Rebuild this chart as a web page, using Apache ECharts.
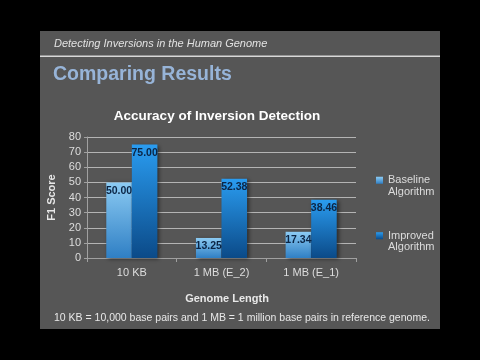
<!DOCTYPE html>
<html><head><meta charset="utf-8">
<script src="https://cdn.jsdelivr.net/npm/echarts@6/dist/echarts.min.js"></script>
<style>html,body{margin:0;padding:0;background:#000;}#c{width:480px;height:360px;}</style>
</head><body><div id="c"></div>
<script>
var categories = ['10 KB', '1 MB (E_2)', '1 MB (E_1)'];
var baseline = [50.00, 13.25, 17.34];
var improved = [75.00, 52.38, 38.46];
var seriesNames = ['Baseline Algorithm', 'Improved Algorithm'];
var yTicks = [0, 10, 20, 30, 40, 50, 60, 70, 80];

var FONT = 'Liberation Sans';
var chart = echarts.init(document.getElementById('c'));
function grad(top, bottom) {
  return new echarts.graphic.LinearGradient(0, 0, 0, 1, [
    {offset: 0, color: top}, {offset: 1, color: bottom}]);
}
var labelCfg = {
  show: true, position: 'insideTop', distance: 3,
  color: '#0b2545', fontSize: 10.5, fontWeight: 'bold', fontFamily: FONT,
  formatter: function (p) { return p.value.toFixed(2); }
};
chart.setOption({
  backgroundColor: '#000',
  animation: false,
  graphic: [
    {type: 'rect', shape: {x: 40, y: 31, width: 400, height: 298}, style: {fill: '#565656'}, z: -10},
    {type: 'rect', shape: {x: 40, y: 55.5, width: 400, height: 1.5}, style: {fill: '#d8d8d8'}, z: -9},
    {type: 'text', left: 54, top: 38, style: {text: 'Detecting Inversions in the Human Genome', fill: '#e2e2e2', font: 'italic 11px ' + FONT}},
    {type: 'text', left: 53, top: 65, style: {text: 'Comparing Results', fill: '#97b4d8', font: 'bold 19.5px ' + FONT}},
    {type: 'text', left: 54, top: 313, style: {text: '10 KB = 10,000 base pairs and 1 MB = 1 million base pairs in reference genome.', fill: '#e8e8e8', font: '10.5px ' + FONT}}
  ],
  title: {
    text: 'Accuracy of Inversion Detection', left: 212, top: 104, textAlign: 'center',
    textStyle: {color: '#ffffff', fontSize: 13.5, fontWeight: 'bold', fontFamily: FONT}
  },
  legend: {
    orient: 'vertical', left: 371, top: 158, itemGap: 21,
    itemWidth: 7, itemHeight: 7, icon: 'rect',
    textStyle: {color: '#dcdcdc', fontSize: 11, fontFamily: FONT, lineHeight: 11.5},
    formatter: function (n) { return '\n' + n.replace(' ', '\n'); },
    data: seriesNames
  },
  grid: {left: 87, right: 124, top: 137, bottom: 102},
  xAxis: {
    type: 'category', data: categories,
    axisLine: {lineStyle: {color: '#a0a0a0'}},
    axisTick: {show: true, length: 4, lineStyle: {color: '#a0a0a0'}},
    axisLabel: {color: '#dddddd', fontSize: 11, fontFamily: FONT, margin: 9},
    name: 'Genome Length', nameLocation: 'middle', nameGap: 35,
    nameTextStyle: {color: '#e8e8e8', fontSize: 11, fontWeight: 'bold', fontFamily: FONT, padding: [0, 0, 0, 11]}
  },
  yAxis: {
    type: 'value', min: 0, max: 80, interval: 10,
    axisLine: {show: true, lineStyle: {color: '#a0a0a0'}},
    axisTick: {show: true, length: 3, lineStyle: {color: '#a0a0a0'}},
    axisLabel: {color: '#dddddd', fontSize: 11, fontFamily: FONT, margin: 6,
      formatter: function (v) { return yTicks.indexOf(v) >= 0 ? String(v) : ''; }},
    splitLine: {lineStyle: {color: '#b4b4b4', width: 1}},
    name: 'F1 Score', nameLocation: 'middle', nameGap: 30, nameRotate: 90,
    nameTextStyle: {color: '#e8e8e8', fontSize: 11, fontWeight: 'bold', fontFamily: FONT}
  },
  series: [
    {
      name: seriesNames[0], type: 'bar', data: baseline,
      barGap: '0%', barCategoryGap: '43%',
      itemStyle: {color: grad('#8ccbf3', '#2f7fc4'), shadowBlur: 4, shadowColor: 'rgba(0,0,0,0.5)', shadowOffsetX: 2, shadowOffsetY: 1},
      label: labelCfg
    },
    {
      name: seriesNames[1], type: 'bar', data: improved,
      itemStyle: {color: grad('#2a9cf0', '#0b4a88'), shadowBlur: 4, shadowColor: 'rgba(0,0,0,0.5)', shadowOffsetX: 2, shadowOffsetY: 1},
      label: labelCfg
    }
  ]
});
</script></body></html>
